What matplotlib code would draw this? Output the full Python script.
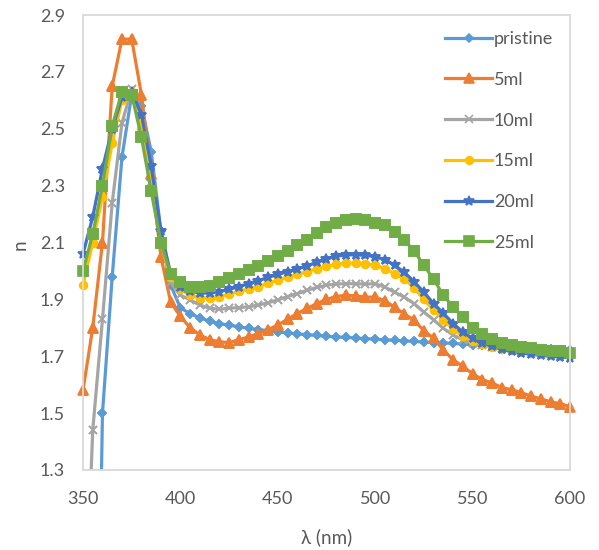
import matplotlib.pyplot as plt
import numpy as np

plt.rcParams['font.family'] = ['Lato', 'DejaVu Sans']

# wavelength grid (nm)
wl = np.arange(350, 601, 5)

# refractive index n for each sample
n_pristine = [-1.5, -0.5, 1.50, 1.98, 2.40, 2.62, 2.58, 2.42, 2.14, 1.95,
              1.87, 1.85, 1.835, 1.823, 1.815, 1.809, 1.804, 1.798, 1.794, 1.79,
              1.785, 1.782, 1.779, 1.776, 1.773, 1.77, 1.768, 1.766, 1.764, 1.762,
              1.76, 1.758, 1.756, 1.754, 1.752, 1.75, 1.748, 1.747, 1.745, 1.743,
              1.741, 1.739, 1.737, 1.735, 1.733, 1.731, 1.729, 1.727, 1.725, 1.723,
              1.721]
n_5ml = [1.58, 1.80, 2.10, 2.65, 2.815, 2.815, 2.62, 2.34, 2.05, 1.89,
         1.84, 1.80, 1.775, 1.758, 1.751, 1.748, 1.758, 1.768, 1.78, 1.793,
         1.81, 1.83, 1.85, 1.868, 1.885, 1.90, 1.91, 1.915, 1.912, 1.908,
         1.908, 1.895, 1.872, 1.849, 1.826, 1.79, 1.763, 1.722, 1.687, 1.665,
         1.638, 1.618, 1.606, 1.59, 1.582, 1.572, 1.56, 1.55, 1.54, 1.533,
         1.523]
n_10ml = [0.55, 1.44, 1.83, 2.24, 2.52, 2.64, 2.55, 2.33, 2.10, 1.96,
          1.915, 1.898, 1.88, 1.869, 1.865, 1.869, 1.871, 1.874, 1.88, 1.888,
          1.898, 1.91, 1.92, 1.932, 1.942, 1.95, 1.954, 1.955, 1.955, 1.954,
          1.955, 1.943, 1.925, 1.908, 1.885, 1.855, 1.828, 1.798, 1.775, 1.758,
          1.746, 1.738, 1.732, 1.728, 1.724, 1.72, 1.718, 1.715, 1.713, 1.71,
          1.708]
n_15ml = [1.95, 2.10, 2.26, 2.45, 2.60, 2.63, 2.50, 2.30, 2.10, 1.98,
          1.935, 1.915, 1.905, 1.905, 1.91, 1.918, 1.928, 1.937, 1.945, 1.957,
          1.968, 1.978, 1.988, 1.998, 2.008, 2.016, 2.023, 2.027, 2.028, 2.026,
          2.02, 2.008, 1.99, 1.972, 1.94, 1.90, 1.862, 1.828, 1.795, 1.77,
          1.755, 1.742, 1.733, 1.727, 1.722, 1.718, 1.715, 1.712, 1.71, 1.708,
          1.706]
n_20ml = [2.06, 2.19, 2.36, 2.50, 2.61, 2.63, 2.55, 2.37, 2.14, 1.99,
          1.945, 1.93, 1.922, 1.922, 1.927, 1.935, 1.945, 1.955, 1.966, 1.977,
          1.988, 1.997, 2.006, 2.018, 2.03, 2.042, 2.052, 2.056, 2.057, 2.055,
          2.05, 2.04, 2.02, 1.995, 1.962, 1.925, 1.885, 1.851, 1.815, 1.785,
          1.763, 1.748, 1.735, 1.724, 1.717, 1.712, 1.707, 1.703, 1.70, 1.697,
          1.695]
n_25ml = [2.00, 2.13, 2.30, 2.51, 2.63, 2.62, 2.47, 2.28, 2.10, 1.99,
          1.96, 1.945, 1.943, 1.947, 1.96, 1.975, 1.99, 2.005, 2.018, 2.035,
          2.053, 2.071, 2.092, 2.11, 2.133, 2.156, 2.17, 2.178, 2.182, 2.18,
          2.17, 2.16, 2.138, 2.108, 2.07, 2.02, 1.97, 1.915, 1.872, 1.838,
          1.80, 1.778, 1.76, 1.748, 1.74, 1.732, 1.728, 1.723, 1.72, 1.717,
          1.713]

labels = ['pristine', '5ml', '10ml', '15ml', '20ml', '25ml']
colors = ['#5B9BD5', '#ED7D31', '#A5A5A5', '#FFC000', '#4472C4', '#70AD47']
markers = ['D', '^', 'x', 'o', '*', 's']
msizes = [4, 6.5, 5.5, 5.5, 7, 6.5]
series = [n_pristine, n_5ml, n_10ml, n_15ml, n_20ml, n_25ml]

ymin, ymax = 1.3, 2.9

fig = plt.figure(figsize=(5.99, 5.50), dpi=100)
ax = fig.add_axes([83/599, 1-470/550, 487/599, 455/550])

for vals, lab, c, m, ms in zip(series, labels, colors, markers, msizes):
    vals = np.array(vals)
    ax.plot(wl, vals, color=c, lw=2.3, marker=m, ms=ms, mec=c, mfc=c,
            mew=1.2, label=lab)
    # markers at the plot edges are drawn whole, like in Excel
    inside = np.where(vals >= ymin, vals, np.nan)
    ax.plot(wl, inside, ls='none', marker=m, ms=ms, mec=c, mfc=c,
            mew=1.2, clip_on=False)

ax.set_xlim(350, 600)
ax.set_ylim(ymin, ymax)
ax.set_xticks(np.arange(350, 601, 50))
ax.set_yticks(np.round(np.arange(1.3, 2.91, 0.2), 1))
ax.yaxis.set_major_formatter(plt.FormatStrFormatter('%.1f'))
ax.tick_params(length=0, labelsize=13, colors='#595959')
ax.tick_params(axis='y', pad=13)
ax.tick_params(axis='x', pad=15)
for s in ax.spines.values():
    s.set_color('#D9D9D9')
    s.set_linewidth(1.3)

ax.set_xlabel('λ (nm)', fontsize=13.5, color='#595959')
ax.xaxis.set_label_coords(0.5, -(537-470)/455, transform=ax.transAxes)
ax.set_ylabel('n', fontsize=13.5, color='#595959')
ax.yaxis.set_label_coords(-(83-20)/487, (470-245)/455, transform=ax.transAxes)
ax.xaxis.label.set_va('center')
ax.yaxis.label.set_va('center')

leg = ax.legend(loc='upper left', bbox_to_anchor=(436/599, 1-22/550),
                bbox_transform=fig.transFigure, frameon=False, borderpad=0,
                handlelength=2.6, handletextpad=0.1, labelspacing=1.37,
                fontsize=13)
for t in leg.get_texts():
    t.set_color('#595959')

fig.savefig('out.png', dpi=100)
